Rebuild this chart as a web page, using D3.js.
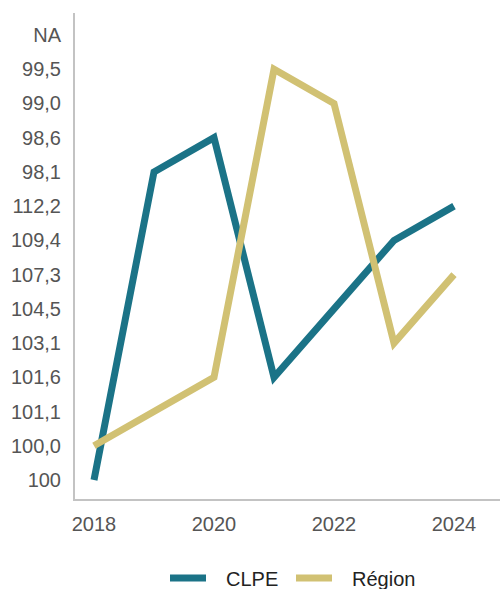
<!DOCTYPE html>
<html><head><meta charset="utf-8">
<script src="https://cdn.jsdelivr.net/npm/d3@7"></script>
<style>body{margin:0;background:#fff;} svg{display:block;font-family:"Liberation Sans",Arial,sans-serif;}</style>
</head><body>
<script>
const years = [2018, 2019, 2020, 2021, 2022, 2023, 2024];
const yCategories = ["100", "100,0", "101,1", "101,6", "103,1", "104,5", "107,3", "109,4", "112,2", "98,1", "98,6", "99,0", "99,5", "NA"];
const clpe = ["100", "98,1", "98,6", "101,6", "104,5", "109,4", "112,2"];
const region = ["100,0", "101,1", "101,6", "99,5", "99,0", "103,1", "107,3"];
const xTicks = [2018, 2020, 2022, 2024];
const seriesNames = ["CLPE", "Région"];
const colors = ["#1b7387", "#d1c173"];

const W = 500, H = 589;
const svg = d3.select("body").append("svg").attr("width", W).attr("height", H);
const x = d3.scaleLinear().domain([2018, 2024]).range([94, 454]);
const y = d3.scalePoint().domain(yCategories).range([480, 35]);

// axes lines
svg.append("line").attr("x1", 74).attr("x2", 74).attr("y1", 13).attr("y2", 501)
  .attr("stroke", "#c3c3c3").attr("stroke-width", 2);
svg.append("line").attr("x1", 73).attr("x2", 500).attr("y1", 500).attr("y2", 500)
  .attr("stroke", "#c3c3c3").attr("stroke-width", 2);

// y labels
svg.append("g").selectAll("text").data(yCategories).join("text")
  .attr("x", 61).attr("y", d => y(d)).attr("dy", "0.35em")
  .attr("text-anchor", "end").attr("font-size", 20).attr("fill", "#555")
  .text(d => d);

// x labels
svg.append("g").selectAll("text").data(xTicks).join("text")
  .attr("x", d => x(d)).attr("y", 531)
  .attr("text-anchor", "middle").attr("font-size", 20).attr("fill", "#555")
  .text(d => d);

const line = d3.line().x((d, i) => x(years[i])).y(d => y(d));
[clpe, region].forEach((s, k) => {
  svg.append("path").attr("d", line(s)).attr("fill", "none")
    .attr("stroke", colors[k]).attr("stroke-width", 7)
    .attr("stroke-linejoin", "miter").attr("stroke-linecap", "butt");
});

// legend
const legX = [170, 296];
seriesNames.forEach((n, k) => {
  svg.append("line").attr("x1", legX[k]).attr("x2", legX[k] + 36)
    .attr("y1", 578).attr("y2", 578).attr("stroke", colors[k]).attr("stroke-width", 7);
  svg.append("text").attr("x", legX[k] + 56).attr("y", 579).attr("dy", "0.35em")
    .attr("font-size", 20).attr("fill", "#222").text(n);
});
</script>
</body></html>
